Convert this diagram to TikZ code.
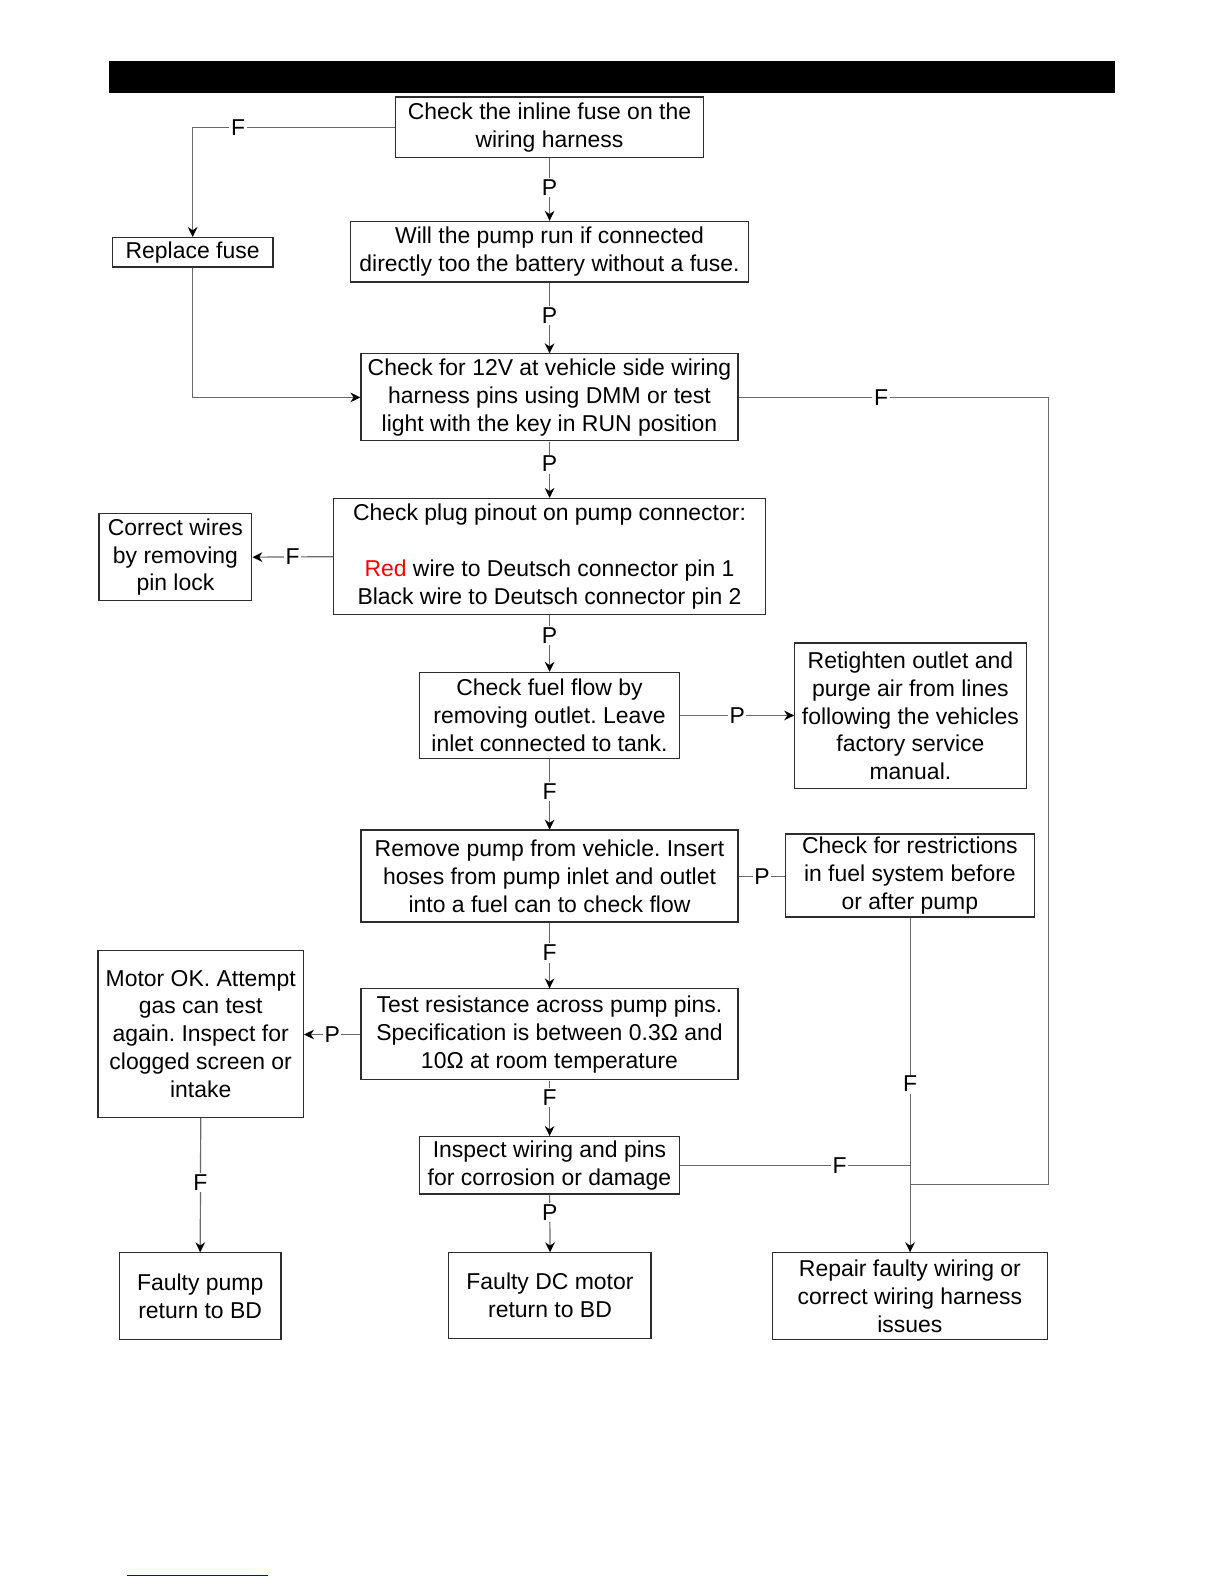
\documentclass[tikz,border=0pt]{standalone}
\usepackage{fontspec}
\setmainfont{Liberation Sans}
\usetikzlibrary{arrows.meta,calc}
\frenchspacing
\definecolor{linec}{RGB}{105,105,105}
\definecolor{boxc}{RGB}{45,45,45}
\definecolor{linkblue}{RGB}{0,0,230}
\tikzset{
  box/.style={draw=boxc, line width=0.6pt, inner sep=0pt, align=center,
    font=\fontsize{11.35}{13.75}\selectfont},
  conn/.style={draw=linec, line width=0.6pt},
  arr/.style={conn, -{Stealth[length=5pt,width=4.8pt,black]}},
  lbl/.style={fill=white, inner sep=0.8pt, font=\fontsize{11.35}{13.75}\selectfont},
}
\begin{document}
\begin{tikzpicture}[x=0.5pt,y=-0.5pt,scale=1.011,transform shape]
\useasboundingbox (0,0) rectangle (1211.7,1567.75);
\fill[black] (108,60) rectangle (1103,92);
\draw[linkblue, line width=0.6pt] (125.6,1558) -- (265.5,1558);

\node[box, minimum width=152.5pt, minimum height=30pt] (fuse) at (543.5,126)
  {Check the inline fuse on the\\wiring harness};
\node[box, minimum width=79.5pt, minimum height=14.5pt] (repl) at (190.5,249.5)
  {Replace fuse};
\node[box, minimum width=196.5pt, minimum height=30pt] (run) at (543.5,249)
  {Will the pump run if connected\\directly too the battery without a fuse.};
\node[box, minimum width=186.5pt, minimum height=43pt] (v12) at (543.5,393)
  {Check for 12V at vehicle side wiring\\harness pins using DMM or test\\light with the key in RUN position};
\node[box, minimum width=213.5pt, minimum height=57.5pt] (plug) at (543.5,550.5)
  {Check plug pinout on pump connector:\\[13.75pt]\textcolor{red}{Red} wire to Deutsch connector pin 1\\Black wire to Deutsch connector pin 2};
\node[box, minimum width=75.5pt, minimum height=43pt] (corr) at (173.5,551)
  {Correct wires\\by removing\\pin lock};
\node[box, minimum width=128.5pt, minimum height=42.5pt] (flow) at (543.5,707.5)
  {Check fuel flow by\\removing outlet. Leave\\inlet connected to tank.};
\node[box, minimum width=114.5pt, minimum height=72pt] (ret) at (900.5,708)
  {Retighten outlet and\\purge air from lines\\following the vehicles\\factory service\\manual.};
\node[box, minimum width=186.5pt, minimum height=45.5pt] (rem) at (543.5,866.5)
  {Remove pump from vehicle. Insert\\hoses from pump inlet and outlet\\into a fuel can to check flow};
\node[box, minimum width=123pt, minimum height=41pt] (restr) at (900,866)
  {Check for restrictions\\in fuel system before\\or after pump};
\node[box, minimum width=186.5pt, minimum height=45pt] (test) at (543.5,1023)
  {Test resistance across pump pins.\\Specification is between 0.3Ω and\\10Ω at room temperature};
\node[box, minimum width=101.5pt, minimum height=82.5pt] (motor) at (198.5,1022.5)
  {Motor OK. Attempt\\gas can test\\again. Inspect for\\clogged screen or\\intake};
\node[box, minimum width=128.5pt, minimum height=28.5pt] (insp) at (543.5,1152.5)
  {Inspect wiring and pins\\for corrosion or damage};
\node[box, minimum width=80pt, minimum height=43pt] (fpump) at (198,1282)
  {Faulty pump\\return to BD};
\node[box, minimum width=100pt, minimum height=42.5pt] (fdc) at (544,1281.5)
  {Faulty DC motor\\return to BD};
\node[box, minimum width=136pt, minimum height=43pt] (rep) at (900,1282)
  {Repair faulty wiring or\\correct wiring harness\\issues};

\coordinate (rt) at (1037,393);
\coordinate (rb) at (1037,1171);

\draw[arr] (fuse.west) -- node[lbl,pos=0.775]{F} (repl.north |- fuse.west) -- (repl.north);
\draw[arr] (fuse.south) -- node[lbl,pos=0.46]{P} (run.north);
\draw[arr] (run.south) -- node[lbl,pos=0.46]{P} (v12.north);
\draw[arr] (repl.south) |- (v12.west);
\draw[conn] (v12.east) -- node[lbl,pos=0.459]{F} (rt) -- (rb) -- (rb -| rep.north);
\draw[arr] (v12.south) -- node[lbl,pos=0.4]{P} (plug.north);
\draw[arr] (plug.west) -- node[lbl,pos=0.5]{F} (corr.east);
\draw[arr] (plug.south) -- node[lbl,pos=0.35]{P} (flow.north);
\draw[arr] (flow.east) -- node[lbl,pos=0.5]{P} (ret.west |- flow.east);
\draw[arr] (flow.south) -- node[lbl,pos=0.46]{F} (rem.north);
\draw[conn] (rem.east) -- node[lbl,pos=0.5]{P} (restr.west |- rem.east);
\draw[arr] (restr.south) -- node[lbl,pos=0.497]{F} (rep.north);
\draw[arr] (rem.south) -- node[lbl,pos=0.46]{F} (test.north);
\draw[arr] (test.west) -- node[lbl,pos=0.5]{P} (motor.east |- test.west);
\draw[arr] (test.south) -- node[lbl,pos=0.3]{F} (insp.north);
\draw[arr] (motor.south) -- node[lbl,pos=0.48]{F} (fpump.north);
\draw[arr] (insp.south) -- node[lbl,pos=0.3]{P} (fdc.north);
\draw[conn] (insp.east) -- node[lbl,pos=0.693]{F} (insp.east -| rep.north);
\end{tikzpicture}
\end{document}
